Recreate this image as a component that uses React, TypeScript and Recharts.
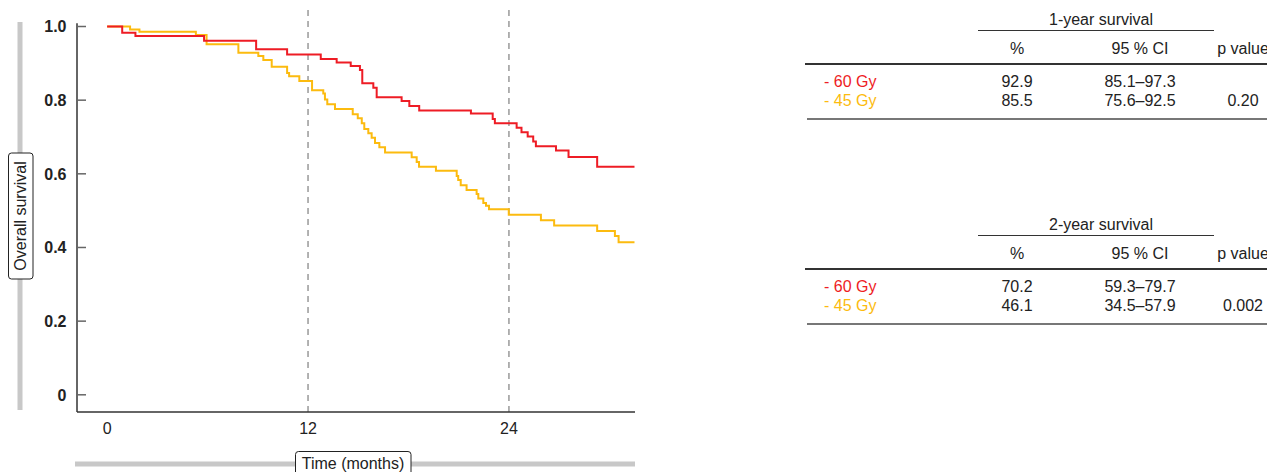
import { LineChart, Line, XAxis, YAxis, ReferenceLine } from 'recharts';

const RED = '#ee1c25';
const YELLOW = '#fcbb0f';
const FONT = '"Liberation Sans", Arial, Helvetica, sans-serif';

// Kaplan-Meier steps (months, survival)
const redMonths = [0, 0.9, 1.69, 5.79, 8.9, 10.75, 12.76, 13.71, 14.55, 15.1, 15.24, 15.9, 16.1, 17.59, 18.05, 18.64, 21.73, 23.03, 23.16, 24.46, 24.75, 25.12, 25.45, 25.61, 26.81, 27.56, 29.27, 31.5];
const redSurv = [1, 0.983, 0.974, 0.961, 0.938, 0.924, 0.912, 0.902, 0.893, 0.882, 0.846, 0.834, 0.808, 0.798, 0.784, 0.772, 0.764, 0.749, 0.737, 0.725, 0.713, 0.701, 0.688, 0.675, 0.663, 0.646, 0.619, 0.619];

const yellowMonths = [0, 1.37, 1.93, 5.3, 5.94, 7.84, 9.03, 9.33, 9.83, 10.75, 10.87, 11.48, 12.24, 12.91, 13.01, 13.15, 13.61, 14.67, 14.97, 15.21, 15.36, 15.6, 15.8, 16.0, 16.26, 16.6, 18.19, 18.49, 18.63, 19.64, 20.88, 20.97, 21.12, 21.47, 22.07, 22.17, 22.47, 22.63, 22.81, 23.99, 25.91, 26.7, 29.27, 30.33, 30.55, 31.5];
const yellowSurv = [1, 0.992, 0.986, 0.977, 0.952, 0.929, 0.92, 0.909, 0.891, 0.874, 0.865, 0.852, 0.827, 0.818, 0.802, 0.789, 0.776, 0.762, 0.751, 0.737, 0.722, 0.71, 0.698, 0.684, 0.672, 0.658, 0.645, 0.632, 0.619, 0.608, 0.594, 0.583, 0.569, 0.556, 0.545, 0.533, 0.521, 0.513, 0.504, 0.489, 0.474, 0.46, 0.445, 0.431, 0.414, 0.414];

const xTicks = [0, 12, 24];
const yTicks = [0, 0.2, 0.4, 0.6, 0.8, 1.0];
const landmarks = [12, 24];

const groups = ['- 60 Gy', '- 45 Gy'];
const groupColors = [RED, YELLOW];
const oneYearPct = ['92.9', '85.5'];
const oneYearCI = ['85.1–97.3', '75.6–92.5'];
const oneYearP = '0.20';
const twoYearPct = ['70.2', '46.1'];
const twoYearCI = ['59.3–79.7', '34.5–57.9'];
const twoYearP = '0.002';

const redData = redMonths.map((t, i) => ({ t, s: redSurv[i] }));
const yellowData = yellowMonths.map((t, i) => ({ t, s: yellowSurv[i] }));

const X_MIN = -1.8;
const Y_MIN = -0.0467;

const YTick = (props: any) => {
  const { x, y, payload } = props;
  const label = payload.value === 0 ? '0' : Number(payload.value).toFixed(1);
  return (
    <g>
      <line x1={x} x2={x + 9} y1={y} y2={y} stroke="#666" strokeWidth={1.5} />
      <text x={x - 10.5} y={y + 5.8} textAnchor="end" fontFamily={FONT} fontSize={16} fontWeight="bold" fill="#222">
        {label}
      </text>
    </g>
  );
};

const XTick = (props: any) => {
  const { x, y, payload } = props;
  return (
    <text x={x} y={y + 22} textAnchor="middle" fontFamily={FONT} fontSize={16} fill="#222">
      {payload.value}
    </text>
  );
};

const cell = (left: number, top: number, text: string, color = '#222', anchor = 'center') => (
  <div
    style={{
      position: 'absolute',
      left,
      top,
      transform: anchor === 'center' ? 'translate(-50%, -50%)' : 'translate(0, -50%)',
      color,
      whiteSpace: 'nowrap',
      fontSize: 16,
      lineHeight: '16px',
    }}
  >
    {text}
  </div>
);

const rule = (left: number, top: number, width: number, color: string, h: number) => (
  <div style={{ position: 'absolute', left, top: top - h / 2, width, height: h, background: color }} />
);

type SurvTableProps = { top: number; title: string; pct: string[]; ci: string[]; p: string };

const SurvTable = ({ top, title, pct, ci, p }: SurvTableProps) => (
  <>
    {cell(1101, top, title)}
    {rule(978, top + 10.3, 236, '#333', 1)}
    {cell(1017, top + 28.7, '%')}
    {cell(1140, top + 28.7, '95 % CI')}
    {cell(1243, top + 28.7, 'p value')}
    {rule(805, top + 44, 470, '#333', 1.5)}
    {groups.map((g, i) => (
      <div key={g}>
        {cell(824, top + 62 + i * 19.3, g, groupColors[i], 'left')}
        {cell(1017, top + 62 + i * 19.3, pct[i])}
        {cell(1140, top + 62 + i * 19.3, ci[i])}
      </div>
    ))}
    {cell(1243, top + 81.3, p)}
    {rule(807, top + 98.8, 470, '#777', 2)}
  </>
);

export default function App() {
  return (
    <div style={{ position: 'absolute', left: 0, top: 0, width: 1267, height: 472, overflow: 'hidden', background: '#fff', fontFamily: FONT }}>
      <svg width={1267} height={472} style={{ position: 'absolute', left: 0, top: 0 }}>
        <rect x={17.5} y={22} width={5} height={388} fill="#c8c8c8" />
        <rect x={8.5} y={153} width={24.5} height={126} rx={3} fill="#fff" stroke="#222" strokeWidth={1} />
        <text x={25.5} y={216} transform="rotate(-90 25.5 216)" textAnchor="middle" fontFamily={FONT} fontSize={16} fill="#222">
          Overall survival
        </text>
        <rect x={75} y={461.5} width={560} height={5} fill="#c8c8c8" />
        <rect x={295.5} y={451.5} width={115.5} height={30} rx={3} fill="#fff" stroke="#222" strokeWidth={1} />
        <text x={353} y={469} textAnchor="middle" fontFamily={FONT} fontSize={16} fill="#222">
          Time (months)
        </text>
      </svg>
      <div style={{ position: 'absolute', left: 0, top: 0 }}>
        <LineChart width={640} height={472} margin={{ top: 10, right: 5, left: 0, bottom: 30 }}>
          <XAxis
            type="number"
            dataKey="t"
            domain={[X_MIN, 31.53]}
            ticks={xTicks}
            allowDataOverflow
            height={30}
            tickLine={false}
            tickSize={0}
            tickMargin={0}
            axisLine={{ stroke: '#333', strokeWidth: 1.5 }}
            tick={<XTick />}
          />
          <YAxis
            type="number"
            domain={[Y_MIN, 1.0448]}
            ticks={yTicks}
            allowDataOverflow
            width={77}
            tickLine={false}
            tickSize={0}
            tickMargin={0}
            axisLine={false}
            tick={<YTick />}
          />
          <ReferenceLine
            segment={[{ x: X_MIN, y: Y_MIN }, { x: X_MIN, y: 1.009 }]}
            stroke="#333"
            strokeWidth={1.5}
          />
          {landmarks.map((m) => (
            <ReferenceLine key={m} x={m} stroke="#999" strokeWidth={1.5} strokeDasharray="6 5" />
          ))}
          <Line data={yellowData} dataKey="s" type="stepAfter" stroke={YELLOW} strokeWidth={2} dot={false} isAnimationActive={false} />
          <Line data={redData} dataKey="s" type="stepAfter" stroke={RED} strokeWidth={2} dot={false} isAnimationActive={false} />
        </LineChart>
      </div>
      <SurvTable top={20} title="1-year survival" pct={oneYearPct} ci={oneYearCI} p={oneYearP} />
      <SurvTable top={225} title="2-year survival" pct={twoYearPct} ci={twoYearCI} p={twoYearP} />
    </div>
  );
}
